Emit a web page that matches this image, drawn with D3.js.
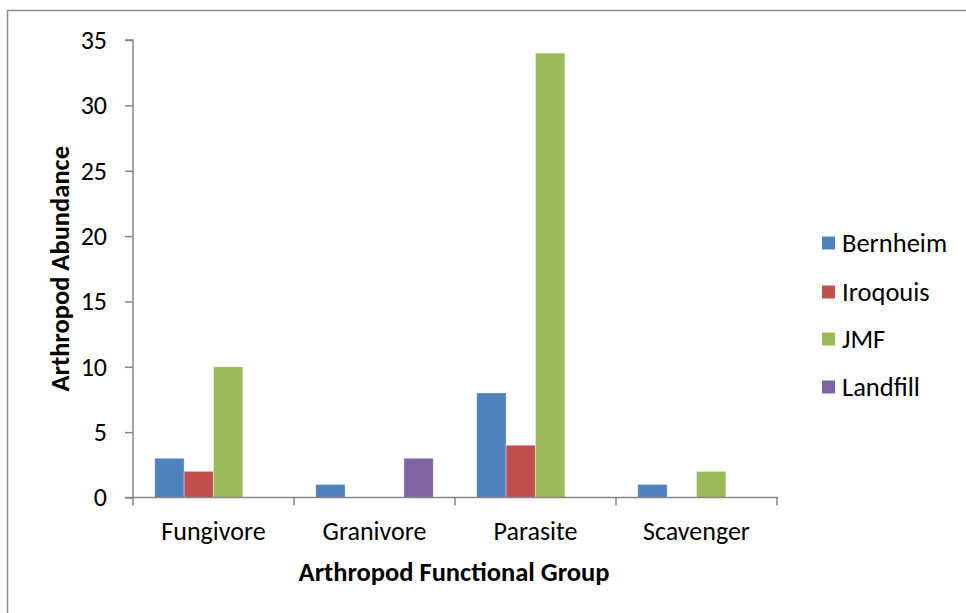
<!DOCTYPE html>
<html><head><meta charset="utf-8">
<script src="https://cdn.jsdelivr.net/npm/d3@7"></script>
<style>body{margin:0;background:#fff}svg{display:block}text{font-family:Carlito,Lato,"Liberation Sans",sans-serif}</style>
</head><body><svg id="c" width="966" height="613"></svg>
<script>
const categories = ["Fungivore", "Granivore", "Parasite", "Scavenger"];
const seriesNames = ["Bernheim", "Iroqouis", "JMF", "Landfill"];
const Bernheim = [3, 1, 8, 1];
const Iroqouis = [2, 0, 4, 0];
const JMF = [10, 0, 34, 2];
const Landfill = [0, 3, 0, 0];
const yTicks = [0, 5, 10, 15, 20, 25, 30, 35];
const colors = ["#4F81BD", "#C0504D", "#9BBB59", "#8064A2"];
const seriesValues = [Bernheim, Iroqouis, JMF, Landfill];

(function () {
const FS = 26;
const FF = 'Carlito, Lato, "Liberation Sans", sans-serif';
const svg = d3.select("#c");
svg.append("rect").attr("x", 7.5).attr("y", 10.5).attr("width", 1000).attr("height", 700)
  .attr("fill", "#fff").attr("stroke", "#8c8c8c").attr("stroke-width", 1.5);

const pl = 133, pr = 777, pt = 40, pb = 497.5;
const x0 = d3.scaleBand().domain(categories).range([pl, pr]).paddingInner(0).paddingOuter(0);
const x1 = d3.scaleBand().domain(seriesNames).range([0, x0.bandwidth()]).paddingInner(0).paddingOuter(0.74);
const y = d3.scaleLinear().domain([0, 35]).range([pb, pt]);

const g = svg.append("g");
categories.forEach((c, ci) => {
  seriesNames.forEach((s, si) => {
    const v = seriesValues[si][ci];
    if (!v) return;
    g.append("rect").attr("x", x0(c) + x1(s)).attr("y", y(v))
      .attr("width", x1.bandwidth()).attr("height", y(0) - y(v))
      .attr("fill", colors[si]).attr("stroke", "rgba(255,255,255,0.45)").attr("stroke-width", 0.8);
  });
});

const axisColor = "#868686";
const ya = svg.append("g").attr("transform", `translate(${pl},0)`)
  .call(d3.axisLeft(y).tickValues(yTicks).tickSize(8).tickPadding(18));
ya.attr("font-family", FF).attr("font-size", FS);
ya.select(".domain").attr("stroke", axisColor).attr("stroke-width", 1.5).attr("d", `M-8,${pt}H0V${pb}H-8`);
ya.selectAll(".tick line").attr("stroke", axisColor).attr("stroke-width", 1.5);
ya.selectAll(".tick text").attr("font-size", FS).attr("fill", "#000").attr("font-family", FF);

const xa = svg.append("g").attr("transform", `translate(0,${pb})`)
  .call(d3.axisBottom(x0).tickSize(0));
xa.attr("font-family", FF).attr("font-size", FS);
xa.select(".domain").attr("stroke", axisColor).attr("stroke-width", 1.5).attr("d", `M${pl},0H${pr+1}`);
xa.selectAll(".tick text").attr("font-size", FS).attr("fill", "#000").attr("font-family", FF)
  .attr("dy", null).attr("y", 540 - pb);
const bounds = categories.map(c => x0(c)).concat([pr]);
xa.selectAll(".sep").data(bounds).enter().append("line").attr("class", "sep")
  .attr("x1", d => d).attr("x2", d => d).attr("y1", 0).attr("y2", 8)
  .attr("stroke", axisColor).attr("stroke-width", 1.5);

svg.append("text").attr("x", (pl + pr) / 2 - 1).attr("y", 581).attr("text-anchor", "middle")
  .attr("font-size", 26.5).attr("font-weight", "bold").text("Arthropod Functional Group");
svg.append("text").attr("transform", `translate(69,${(pt + pb) / 2}) rotate(-90)`).attr("text-anchor", "middle")
  .attr("font-size", 26.5).attr("font-weight", "bold").text("Arthropod Abundance");

const legendY = [243, 292, 339, 387];
const lg = svg.append("g");
seriesNames.forEach((s, i) => {
  lg.append("rect").attr("x", 822).attr("y", legendY[i] - 6.5).attr("width", 13).attr("height", 13).attr("fill", colors[i]);
  lg.append("text").attr("x", 842).attr("y", legendY[i]).attr("dy", "0.35em").attr("font-size", 26.5).text(s);
});
})();
</script></body></html>
